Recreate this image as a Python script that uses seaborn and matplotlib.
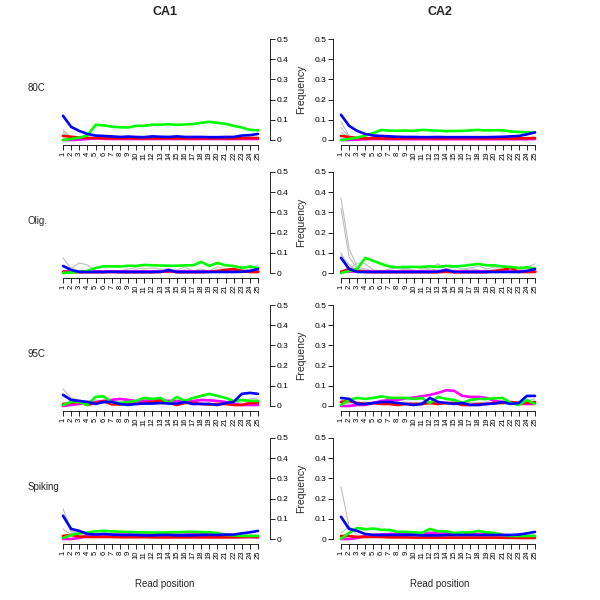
import matplotlib
matplotlib.use("Agg")
import matplotlib.pyplot as plt
import seaborn as sns
import pandas as pd

# read positions and panel labels
positions = list(range(1, 26))
columns = ["CA1", "CA2"]
rows = ["80C", "Olig.", "95C", "Spiking"]

# ---- 80C ----
ca1_80c_blue = [0.12, 0.065, 0.045, 0.03, 0.022, 0.02, 0.018, 0.015, 0.017, 0.015, 0.014, 0.018, 0.016,
                0.015, 0.018, 0.015, 0.015, 0.015, 0.014, 0.014, 0.015, 0.015, 0.022, 0.024, 0.03]
ca1_80c_green = [0.0, 0.005, 0.012, 0.022, 0.075, 0.073, 0.066, 0.063, 0.062, 0.07, 0.07, 0.076, 0.076,
                 0.078, 0.075, 0.077, 0.079, 0.085, 0.09, 0.085, 0.08, 0.07, 0.062, 0.05, 0.048]
ca1_80c_red = [0.02, 0.016, 0.012, 0.01, 0.01, 0.009, 0.009, 0.008, 0.008, 0.008, 0.008, 0.008, 0.008,
               0.008, 0.008, 0.008, 0.008, 0.008, 0.008, 0.008, 0.008, 0.008, 0.009, 0.01, 0.01]
ca1_80c_magenta = [0.0, 0.0, 0.002, 0.005, 0.008, 0.006, 0.005, 0.005, 0.005, 0.005, 0.005, 0.005, 0.005,
                   0.005, 0.005, 0.005, 0.005, 0.005, 0.005, 0.005, 0.005, 0.005, 0.005, 0.005, 0.005]
ca1_80c_grey = [
    [0.05, 0.015, 0.008, 0.006, 0.005, 0.005, 0.005, 0.005, 0.005, 0.005, 0.005, 0.005, 0.005,
     0.005, 0.005, 0.005, 0.005, 0.005, 0.005, 0.005, 0.005, 0.005, 0.005, 0.006, 0.008],
    [0.04, 0.012, 0.006, 0.004, 0.004, 0.004, 0.004, 0.004, 0.004, 0.004, 0.004, 0.004, 0.004,
     0.004, 0.004, 0.004, 0.004, 0.004, 0.004, 0.004, 0.004, 0.004, 0.004, 0.005, 0.006],
    [0.03, 0.01, 0.005, 0.003, 0.003, 0.003, 0.003, 0.003, 0.003, 0.003, 0.003, 0.003, 0.003,
     0.003, 0.003, 0.003, 0.003, 0.003, 0.003, 0.003, 0.003, 0.003, 0.003, 0.004, 0.005],
]
ca2_80c_blue = [0.125, 0.07, 0.045, 0.03, 0.022, 0.02, 0.018, 0.016, 0.015, 0.015, 0.014, 0.014, 0.015,
                0.014, 0.014, 0.014, 0.014, 0.014, 0.014, 0.015, 0.016, 0.018, 0.02, 0.028, 0.038]
ca2_80c_green = [0.0, 0.005, 0.012, 0.022, 0.035, 0.05, 0.046, 0.046, 0.047, 0.045, 0.05, 0.048, 0.046,
                 0.044, 0.045, 0.045, 0.048, 0.05, 0.047, 0.048, 0.048, 0.042, 0.04, 0.038, 0.036]
ca2_80c_red = [0.02, 0.015, 0.01, 0.008, 0.008, 0.008, 0.008, 0.008, 0.008, 0.008, 0.008, 0.008, 0.008,
               0.008, 0.008, 0.008, 0.008, 0.008, 0.008, 0.008, 0.008, 0.008, 0.008, 0.009, 0.01]
ca2_80c_magenta = [0.0, 0.0, 0.002, 0.004, 0.005, 0.005, 0.004, 0.004, 0.004, 0.004, 0.004, 0.004, 0.004,
                   0.004, 0.004, 0.004, 0.004, 0.004, 0.004, 0.004, 0.004, 0.004, 0.004, 0.004, 0.005]
ca2_80c_grey = [
    [0.09, 0.02, 0.01, 0.006, 0.005, 0.005, 0.005, 0.005, 0.005, 0.005, 0.005, 0.005, 0.005,
     0.005, 0.005, 0.005, 0.005, 0.005, 0.005, 0.005, 0.005, 0.005, 0.005, 0.006, 0.008],
    [0.06, 0.015, 0.008, 0.005, 0.004, 0.004, 0.004, 0.004, 0.004, 0.004, 0.004, 0.004, 0.004,
     0.004, 0.004, 0.004, 0.004, 0.004, 0.004, 0.004, 0.004, 0.004, 0.004, 0.005, 0.006],
    [0.04, 0.01, 0.005, 0.003, 0.003, 0.003, 0.003, 0.003, 0.003, 0.003, 0.003, 0.003, 0.003,
     0.003, 0.003, 0.003, 0.003, 0.003, 0.003, 0.003, 0.003, 0.003, 0.003, 0.004, 0.005],
]

# ---- Olig. ----
ca1_olig_blue = [0.035, 0.015, 0.005, 0.005, 0.005, 0.005, 0.006, 0.005, 0.005, 0.005, 0.005, 0.005, 0.006,
                 0.015, 0.005, 0.005, 0.005, 0.005, 0.005, 0.005, 0.005, 0.005, 0.006, 0.01, 0.02]
ca1_olig_green = [0.0, 0.003, 0.005, 0.01, 0.025, 0.033, 0.033, 0.032, 0.036, 0.035, 0.04, 0.038, 0.037,
                  0.036, 0.036, 0.038, 0.038, 0.055, 0.035, 0.05, 0.038, 0.035, 0.025, 0.032, 0.025]
ca1_olig_red = [0.005, 0.005, 0.004, 0.004, 0.004, 0.004, 0.005, 0.004, 0.004, 0.004, 0.004, 0.004, 0.005,
                0.01, 0.004, 0.004, 0.004, 0.004, 0.006, 0.01, 0.015, 0.02, 0.01, 0.005, 0.005]
ca1_olig_magenta = [0.008, 0.008, 0.008, 0.008, 0.008, 0.008, 0.008, 0.008, 0.008, 0.008, 0.008, 0.008, 0.008,
                    0.008, 0.008, 0.008, 0.008, 0.008, 0.008, 0.008, 0.008, 0.008, 0.008, 0.008, 0.008]
ca1_olig_grey = [
    [0.075, 0.02, 0.05, 0.04, 0.01, 0.008, 0.01, 0.01, 0.02, 0.025, 0.02, 0.025, 0.02,
     0.02, 0.015, 0.03, 0.01, 0.02, 0.01, 0.03, 0.02, 0.015, 0.01, 0.02, 0.04],
    [0.03, 0.025, 0.01, 0.01, 0.005, 0.005, 0.005, 0.01, 0.01, 0.015, 0.01, 0.01, 0.015,
     0.01, 0.01, 0.015, 0.01, 0.01, 0.01, 0.015, 0.01, 0.01, 0.02, 0.01, 0.03],
]
ca2_olig_blue = [0.075, 0.02, 0.005, 0.005, 0.005, 0.005, 0.005, 0.005, 0.005, 0.005, 0.005, 0.005, 0.006,
                 0.015, 0.005, 0.005, 0.005, 0.005, 0.005, 0.005, 0.005, 0.005, 0.005, 0.01, 0.02]
ca2_olig_green = [0.0, 0.01, 0.02, 0.075, 0.06, 0.045, 0.032, 0.028, 0.03, 0.03, 0.03, 0.033, 0.03,
                  0.035, 0.033, 0.035, 0.04, 0.045, 0.038, 0.038, 0.032, 0.03, 0.025, 0.028, 0.022]
ca2_olig_red = [0.005, 0.02, 0.01, 0.005, 0.004, 0.004, 0.004, 0.004, 0.004, 0.004, 0.004, 0.004, 0.004,
                0.006, 0.004, 0.004, 0.004, 0.004, 0.004, 0.01, 0.015, 0.025, 0.005, 0.005, 0.005]
ca2_olig_magenta = [0.008, 0.008, 0.008, 0.008, 0.008, 0.008, 0.008, 0.008, 0.008, 0.008, 0.008, 0.008, 0.008,
                    0.008, 0.008, 0.008, 0.008, 0.008, 0.008, 0.008, 0.008, 0.008, 0.008, 0.008, 0.008]
ca2_olig_grey = [
    [0.37, 0.12, 0.03, 0.02, 0.01, 0.01, 0.015, 0.01, 0.02, 0.015, 0.01, 0.02, 0.015,
     0.02, 0.01, 0.015, 0.02, 0.015, 0.01, 0.02, 0.015, 0.01, 0.015, 0.02, 0.03],
    [0.32, 0.08, 0.02, 0.015, 0.01, 0.005, 0.01, 0.01, 0.01, 0.01, 0.015, 0.01, 0.01,
     0.01, 0.015, 0.01, 0.01, 0.01, 0.015, 0.01, 0.01, 0.015, 0.01, 0.01, 0.02],
    [0.1, 0.02, 0.05, 0.045, 0.015, 0.01, 0.02, 0.025, 0.02, 0.03, 0.02, 0.025, 0.045,
     0.02, 0.03, 0.02, 0.025, 0.035, 0.02, 0.03, 0.02, 0.025, 0.02, 0.03, 0.045],
    [0.09, 0.04, 0.01, 0.01, 0.008, 0.01, 0.01, 0.012, 0.015, 0.01, 0.01, 0.012, 0.01,
     0.015, 0.01, 0.01, 0.012, 0.01, 0.01, 0.012, 0.01, 0.01, 0.012, 0.01, 0.015],
]

# ---- 95C ----
ca1_95c_blue = [0.055, 0.03, 0.025, 0.02, 0.01, 0.02, 0.02, 0.01, 0.005, 0.01, 0.012, 0.012, 0.015,
                0.012, 0.012, 0.02, 0.01, 0.01, 0.01, 0.005, 0.015, 0.02, 0.06, 0.065, 0.06]
ca1_95c_green = [0.005, 0.02, 0.02, 0.005, 0.045, 0.048, 0.018, 0.015, 0.02, 0.025, 0.04, 0.035, 0.04,
                 0.015, 0.045, 0.025, 0.04, 0.05, 0.06, 0.05, 0.04, 0.025, 0.03, 0.025, 0.025]
ca1_95c_red = [0.01, 0.015, 0.02, 0.005, 0.015, 0.025, 0.008, 0.008, 0.015, 0.01, 0.015, 0.02, 0.025,
               0.015, 0.005, 0.015, 0.015, 0.01, 0.008, 0.01, 0.01, 0.005, 0.005, 0.015, 0.015]
ca1_95c_magenta = [0.0, 0.005, 0.01, 0.02, 0.02, 0.025, 0.03, 0.035, 0.03, 0.025, 0.025, 0.03, 0.03,
                   0.025, 0.025, 0.025, 0.025, 0.03, 0.028, 0.025, 0.02, 0.01, 0.005, 0.005, 0.005]
ca1_95c_grey = [
    [0.085, 0.04, 0.03, 0.02, 0.02, 0.025, 0.02, 0.02, 0.015, 0.02, 0.02, 0.02, 0.025,
     0.02, 0.02, 0.02, 0.02, 0.025, 0.03, 0.025, 0.02, 0.02, 0.03, 0.035, 0.04],
    [0.06, 0.02, 0.015, 0.01, 0.01, 0.015, 0.01, 0.015, 0.01, 0.01, 0.015, 0.01, 0.01,
     0.015, 0.01, 0.015, 0.01, 0.01, 0.015, 0.01, 0.01, 0.015, 0.02, 0.025, 0.03],
]
ca2_95c_blue = [0.04, 0.035, 0.01, 0.01, 0.015, 0.02, 0.02, 0.015, 0.01, 0.005, 0.01, 0.04, 0.02,
                0.015, 0.01, 0.015, 0.005, 0.005, 0.01, 0.012, 0.02, 0.01, 0.015, 0.05, 0.05]
ca2_95c_green = [0.005, 0.03, 0.04, 0.035, 0.04, 0.048, 0.04, 0.04, 0.04, 0.035, 0.04, 0.015, 0.045,
                 0.035, 0.03, 0.015, 0.03, 0.035, 0.035, 0.038, 0.04, 0.015, 0.005, 0.03, 0.01]
ca2_95c_red = [0.02, 0.025, 0.015, 0.01, 0.015, 0.01, 0.01, 0.005, 0.01, 0.01, 0.01, 0.015, 0.01,
               0.015, 0.015, 0.005, 0.005, 0.01, 0.01, 0.015, 0.015, 0.02, 0.015, 0.015, 0.02]
ca2_95c_magenta = [0.0, 0.0, 0.005, 0.005, 0.015, 0.025, 0.03, 0.03, 0.038, 0.042, 0.048, 0.055, 0.065,
                   0.078, 0.075, 0.05, 0.045, 0.045, 0.04, 0.025, 0.02, 0.015, 0.01, 0.01, 0.01]
ca2_95c_grey = [
    [0.03, 0.02, 0.015, 0.02, 0.015, 0.02, 0.02, 0.015, 0.02, 0.015, 0.02, 0.015, 0.02,
     0.015, 0.02, 0.015, 0.02, 0.015, 0.02, 0.015, 0.02, 0.015, 0.02, 0.025, 0.035],
    [0.02, 0.01, 0.01, 0.015, 0.01, 0.01, 0.015, 0.01, 0.01, 0.01, 0.015, 0.01, 0.01,
     0.01, 0.01, 0.01, 0.015, 0.01, 0.01, 0.01, 0.01, 0.01, 0.015, 0.015, 0.02],
]

# ---- Spiking ----
ca1_spik_blue = [0.115, 0.05, 0.04, 0.025, 0.022, 0.025, 0.022, 0.02, 0.02, 0.02, 0.018, 0.018, 0.02,
                 0.02, 0.018, 0.018, 0.018, 0.02, 0.02, 0.02, 0.022, 0.022, 0.028, 0.033, 0.04]
ca1_spik_green = [0.005, 0.02, 0.028, 0.032, 0.038, 0.04, 0.038, 0.036, 0.035, 0.033, 0.033, 0.032, 0.032,
                  0.033, 0.034, 0.035, 0.035, 0.034, 0.033, 0.03, 0.02, 0.018, 0.015, 0.015, 0.015]
ca1_spik_red = [0.015, 0.02, 0.012, 0.01, 0.01, 0.01, 0.01, 0.009, 0.009, 0.009, 0.009, 0.008, 0.008,
                0.008, 0.008, 0.008, 0.008, 0.008, 0.008, 0.008, 0.008, 0.008, 0.009, 0.01, 0.01]
ca1_spik_magenta = [0.0, 0.0, 0.005, 0.015, 0.02, 0.022, 0.022, 0.022, 0.022, 0.02, 0.022, 0.022, 0.022,
                    0.022, 0.022, 0.022, 0.025, 0.025, 0.025, 0.02, 0.015, 0.01, 0.01, 0.01, 0.008]
ca1_spik_grey = [
    [0.15, 0.04, 0.03, 0.02, 0.02, 0.02, 0.02, 0.02, 0.02, 0.02, 0.02, 0.02, 0.02,
     0.02, 0.02, 0.02, 0.02, 0.02, 0.02, 0.02, 0.02, 0.02, 0.02, 0.02, 0.02],
    [0.12, 0.035, 0.025, 0.015, 0.015, 0.015, 0.015, 0.015, 0.015, 0.015, 0.015, 0.015, 0.015,
     0.015, 0.015, 0.015, 0.015, 0.015, 0.015, 0.015, 0.015, 0.015, 0.015, 0.015, 0.015],
    [0.05, 0.02, 0.015, 0.01, 0.01, 0.01, 0.01, 0.01, 0.01, 0.01, 0.01, 0.01, 0.01,
     0.01, 0.01, 0.01, 0.01, 0.01, 0.01, 0.01, 0.01, 0.01, 0.01, 0.01, 0.01],
]
ca2_spik_blue = [0.11, 0.05, 0.04, 0.025, 0.02, 0.02, 0.02, 0.02, 0.02, 0.02, 0.018, 0.018, 0.018,
                 0.02, 0.02, 0.02, 0.02, 0.02, 0.02, 0.02, 0.02, 0.02, 0.022, 0.028, 0.035]
ca2_spik_green = [0.0, 0.03, 0.055, 0.048, 0.052, 0.045, 0.045, 0.035, 0.035, 0.033, 0.03, 0.05, 0.038,
                  0.038, 0.03, 0.032, 0.033, 0.04, 0.033, 0.03, 0.02, 0.015, 0.015, 0.015, 0.015]
ca2_spik_red = [0.015, 0.015, 0.01, 0.01, 0.01, 0.01, 0.008, 0.008, 0.008, 0.007, 0.007, 0.007, 0.007,
                0.007, 0.007, 0.007, 0.007, 0.007, 0.007, 0.007, 0.006, 0.006, 0.005, 0.005, 0.005]
ca2_spik_magenta = [0.0, 0.0, 0.005, 0.015, 0.02, 0.022, 0.025, 0.025, 0.025, 0.025, 0.028, 0.03, 0.03,
                    0.028, 0.025, 0.025, 0.025, 0.025, 0.025, 0.025, 0.02, 0.015, 0.01, 0.01, 0.01]
ca2_spik_grey = [
    [0.26, 0.06, 0.02, 0.015, 0.015, 0.015, 0.015, 0.015, 0.015, 0.015, 0.015, 0.015, 0.015,
     0.015, 0.015, 0.015, 0.015, 0.015, 0.015, 0.015, 0.015, 0.015, 0.015, 0.015, 0.015],
    [0.03, 0.06, 0.04, 0.02, 0.02, 0.02, 0.02, 0.02, 0.02, 0.02, 0.02, 0.02, 0.02,
     0.02, 0.02, 0.02, 0.02, 0.02, 0.02, 0.02, 0.02, 0.02, 0.02, 0.02, 0.02],
]

panels = {
    (0, 0): (ca1_80c_grey, ca1_80c_magenta, ca1_80c_red, ca1_80c_green, ca1_80c_blue),
    (0, 1): (ca2_80c_grey, ca2_80c_magenta, ca2_80c_red, ca2_80c_green, ca2_80c_blue),
    (1, 0): (ca1_olig_grey, ca1_olig_magenta, ca1_olig_red, ca1_olig_green, ca1_olig_blue),
    (1, 1): (ca2_olig_grey, ca2_olig_magenta, ca2_olig_red, ca2_olig_green, ca2_olig_blue),
    (2, 0): (ca1_95c_grey, ca1_95c_magenta, ca1_95c_red, ca1_95c_green, ca1_95c_blue),
    (2, 1): (ca2_95c_grey, ca2_95c_magenta, ca2_95c_red, ca2_95c_green, ca2_95c_blue),
    (3, 0): (ca1_spik_grey, ca1_spik_magenta, ca1_spik_red, ca1_spik_green, ca1_spik_blue),
    (3, 1): (ca2_spik_grey, ca2_spik_magenta, ca2_spik_red, ca2_spik_green, ca2_spik_blue),
}

sns.set_style("white")
plt.rcParams['font.family'] = ['Liberation Sans', 'DejaVu Sans']

W = H = 600
fig = plt.figure(figsize=(6, 6), dpi=100)

def add_px_axes(x0, x1, ytop, ybot):
    return fig.add_axes([x0 / W, 1 - ybot / H, (x1 - x0) / W, (ybot - ytop) / H])

for (r, c), (greys, mag, red, green, blue) in panels.items():
    ytop = 35 + 133 * r
    ybot = 145 + 133 * r
    if c == 0:
        ax = add_px_axes(55, 270, ytop, ybot)
        ax.set_xlim(1 - 8 / 8.125, 1 + 207 / 8.125)
    else:
        ax = add_px_axes(333, 543, ytop, ybot)
        ax.set_xlim(1 - 8 / 8.083, 1 + 202 / 8.083)
    ax.set_ylim(-5 / 202, 0.5 + 4 / 202)
    ax.patch.set_alpha(0)

    for g in greys:
        sns.lineplot(x=positions, y=g, ax=ax, color="#BEBEBE", lw=0.8)
    sns.lineplot(x=positions, y=mag, ax=ax, color="#FF00FF", lw=1.9)
    sns.lineplot(x=positions, y=red, ax=ax, color="#FF0000", lw=1.9)
    sns.lineplot(x=positions, y=green, ax=ax, color="#00FF00", lw=1.9)
    sns.lineplot(x=positions, y=blue, ax=ax, color="#0000FF", lw=1.9)

    ax.set_xticks(positions)
    ax.set_xticklabels([str(p) for p in positions], rotation=90, fontsize=5.5)
    ax.set_yticks([0, 0.1, 0.2, 0.3, 0.4, 0.5])
    ax.set_yticklabels(["0", "0.1", "0.2", "0.3", "0.4", "0.5"], fontsize=6)
    ax.tick_params(axis="both", length=3.5, width=0.6, pad=1.5, colors="black")
    ax.tick_params(axis="x", bottom=True)

    ax.spines["top"].set_visible(False)
    ax.spines["bottom"].set_bounds(1, 25)
    ax.spines["bottom"].set_linewidth(0.6)
    if c == 0:
        ax.spines["left"].set_visible(False)
        ax.spines["right"].set_visible(True)
        ax.spines["right"].set_bounds(0, 0.5)
        ax.spines["right"].set_linewidth(0.6)
        ax.yaxis.tick_right()
        ax.tick_params(axis="y", right=True, left=False)
        ax.set_ylabel("")
    else:
        ax.spines["right"].set_visible(False)
        ax.spines["left"].set_bounds(0, 0.5)
        ax.spines["left"].set_linewidth(0.6)
        ax.tick_params(axis="y", left=True, right=False)
        ax.set_ylabel("")
        # shared "Frequency" label sitting between the two columns
        fig.text(301 / W, 1 - (89 + 133 * r) / H, "Frequency", fontsize=7.5,
                 rotation=90, ha="center", va="center")
    for sp in ax.spines.values():
        sp.set_color("black")
    ax.set_xlabel("")

    if r == 3:
        fig.text((165 if c == 0 else 440) / W, 1 - 584 / H, "Read position",
                 fontsize=7, ha="center", va="center")

    if c == 0:
        fig.text(28 / W, 1 - (88 + 133 * r) / H, rows[r], fontsize=7, ha="left", va="center")

fig.text(165 / W, 1 - 12 / H, columns[0], fontsize=9, fontweight="bold", ha="center", va="center")
fig.text(440 / W, 1 - 12 / H, columns[1], fontsize=9, fontweight="bold", ha="center", va="center")

fig.savefig("out.png", dpi=100)
